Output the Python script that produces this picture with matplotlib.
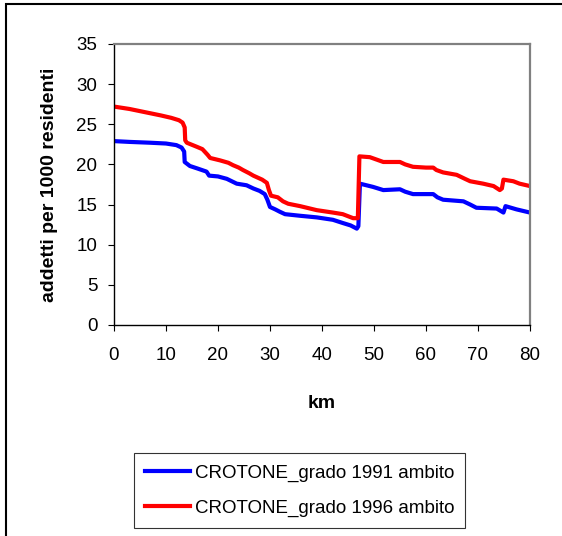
import matplotlib
matplotlib.use("Agg")
import matplotlib.pyplot as plt
from matplotlib.patches import Rectangle

plt.rcParams['font.family'] = ['Liberation Sans', 'DejaVu Sans']

# km along the route and values
km_1991 = [0, 3, 6.9, 10, 12, 13.0, 13.5, 13.6, 14.6, 16, 17.8, 18.3, 20, 21.7,
           23.6, 25.5, 26.8, 28, 29, 29.5, 30, 31, 31.9, 32.9, 35.8, 39, 42.1,
           44, 45.5, 46.7, 47.0, 47.3, 49.8, 51.8, 55, 56, 57.5, 61.4, 62.2,
           63.3, 67.2, 68.5, 69.7, 73.6, 74.9, 75.3, 77.4, 80]
val_1991 = [22.9, 22.8, 22.7, 22.6, 22.4, 22.1, 21.6, 20.3, 19.8, 19.5, 19.1,
            18.6, 18.5, 18.2, 17.6, 17.4, 17.0, 16.7, 16.3, 15.6, 14.7, 14.4,
            14.1, 13.8, 13.6, 13.4, 13.1, 12.7, 12.4, 12.0, 12.3, 17.6, 17.2,
            16.8, 16.9, 16.6, 16.3, 16.3, 15.9, 15.6, 15.4, 15.0, 14.6, 14.5,
            14.0, 14.8, 14.4, 14.0]

km_1996 = [0, 3, 6, 9, 11, 12.5, 13.2, 13.6, 13.7, 14.0, 15.9, 17.0, 18.0, 18.5,
           20.4, 22.0, 22.9, 24.0, 24.8, 26.0, 26.8, 28.5, 29.4, 29.8, 30.2,
           31.5, 32.5, 33.5, 35.8, 39.0, 42.1, 44.0, 46.0, 46.9, 47.2, 49.2,
           50.5, 51.8, 55.0, 56.0, 57.5, 60.0, 61.4, 62.0, 63.3, 65.9, 67.5,
           68.5, 71.0, 73.0, 74.2, 74.6, 74.9, 76.8, 78.0, 80.0]
val_1996 = [27.2, 26.9, 26.5, 26.1, 25.8, 25.5, 25.2, 24.6, 23.0, 22.7, 22.2,
            21.9, 21.2, 20.8, 20.5, 20.2, 19.9, 19.6, 19.3, 18.9, 18.6, 18.1,
            17.7, 16.8, 16.1, 15.9, 15.4, 15.1, 14.8, 14.3, 14.0, 13.8, 13.3,
            13.3, 21.0, 20.9, 20.6, 20.3, 20.3, 20.0, 19.7, 19.6, 19.6, 19.3,
            19.0, 18.7, 18.2, 17.9, 17.6, 17.3, 16.8, 17.0, 18.1, 17.9, 17.6,
            17.3]

labels = ["CROTONE_grado 1991 ambito", "CROTONE_grado 1996 ambito"]

fig = plt.figure(figsize=(5.62, 5.36), dpi=100)
ax = fig.add_axes([0.2028, 0.3937, 0.7402, 0.5243])

ax.plot(km_1991, val_1991, color="#0000ff", lw=3, label=labels[0])
ax.plot(km_1996, val_1996, color="#ff0000", lw=3, label=labels[1])

ax.set_xlim(0, 80)
ax.set_ylim(0, 35)
ax.set_xticks(range(0, 81, 10))
ax.set_yticks(range(0, 36, 5))
ax.tick_params(direction="out", length=4, width=0.8, labelsize=13.5,
               top=False, right=False)
ax.tick_params(axis="x", pad=12)
ax.tick_params(axis="y", pad=8)

for s in ["top", "right"]:
    ax.spines[s].set_color("#808080")
    ax.spines[s].set_linewidth(1.6)
for s in ["left", "bottom"]:
    ax.spines[s].set_color("black")
    ax.spines[s].set_linewidth(1.0)

ax.set_xlabel("km", fontsize=14, fontweight="bold", labelpad=22)
ax.set_ylabel("addetti per 1000 residenti", fontsize=14, fontweight="bold",
              labelpad=13)

leg = fig.legend(loc="lower left", bbox_to_anchor=(0.238, 0.015),
                 fontsize=13.5, frameon=True, fancybox=False,
                 shadow=False, handlelength=2.4, handletextpad=0.25,
                 labelspacing=0.95, borderpad=0.6, borderaxespad=0)
leg.get_frame().set_edgecolor("black")
leg.get_frame().set_linewidth(0.8)

# outer chart border (clipped at right and bottom)
fig.patches.append(Rectangle((0.0107, -0.1), 1.2, 1.0925, transform=fig.transFigure,
                             fill=False, edgecolor="black", lw=1.5))

fig.savefig("out.png", dpi=100)
